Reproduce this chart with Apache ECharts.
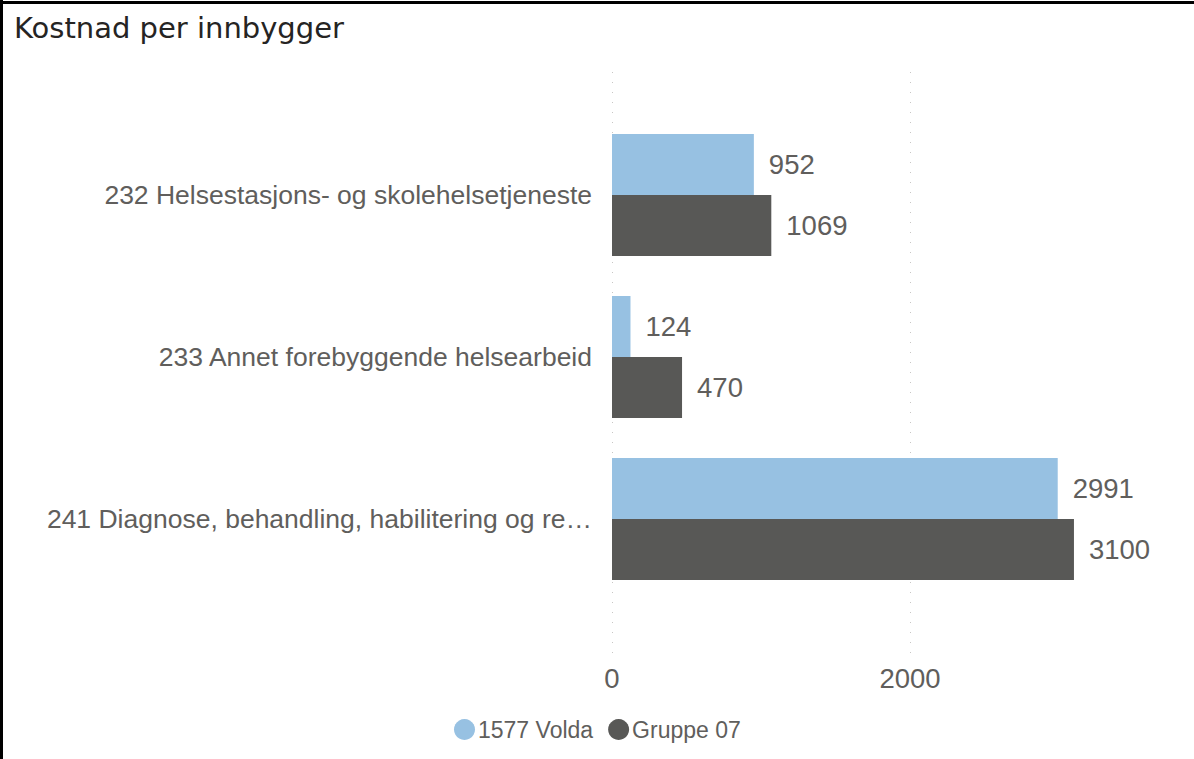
<!DOCTYPE html>
<html>
<head>
<meta charset="utf-8">
<script src="https://cdn.jsdelivr.net/npm/echarts@6/dist/echarts.min.js"></script>
<style>
html,body{margin:0;padding:0;background:#fff;}
#chart{width:1194px;height:759px;}
</style>
</head>
<body>
<div id="chart"></div>
<script>
const titleText = "Kostnad per innbygger";
const categories = [
  "232 Helsestasjons- og skolehelsetjeneste",
  "233 Annet forebyggende helsearbeid",
  "241 Diagnose, behandling, habilitering og rehabilitering"
];
const seriesNames = ["1577 Volda", "Gruppe 07"];
const voldaValues = [952, 124, 2991];
const gruppeValues = [1069, 470, 3100];
const tickValues = [0, 2000];
const colors = ["#97C1E2", "#585856"];

const chart = echarts.init(document.getElementById('chart'), null, {renderer: 'svg'});
const textColor = "#605e5c";
const font = "'Liberation Sans', Arial, sans-serif";

const option = {
  animation: false,
  backgroundColor: '#ffffff',
  title: {
    text: titleText,
    left: 9,
    top: 8,
    textStyle: {fontFamily: "'DejaVu Sans', sans-serif", fontSize: 29, fontWeight: 'normal', color: '#252423'}
  },
  graphic: [
    {type: 'rect', shape: {x: 0, y: 1, width: 1194, height: 3}, style: {fill: '#000'}, silent: true},
    {type: 'rect', shape: {x: 0, y: 0, width: 3, height: 759}, style: {fill: '#000'}, silent: true}
  ],
  legend: {
    data: seriesNames,
    left: 449,
    top: 713,
    icon: 'circle',
    itemWidth: 21,
    itemHeight: 21,
    itemGap: 15,
    textStyle: {fontFamily: font, fontSize: 23, color: textColor, padding: [0, 0, 0, -2]}
  },
  grid: [
    {left: 612, right: 12, top: 114, height: 486, containLabel: false},
    {left: 612, width: 298, top: 72, height: 581, containLabel: false}
  ],
  xAxis: [
    {
      type: 'value', gridIndex: 0, min: 0, max: 3825,
      axisLine: {show: false}, axisTick: {show: false}, axisLabel: {show: false}, splitLine: {show: false}
    },
    {
      type: 'value', gridIndex: 1, min: tickValues[0], max: tickValues[1], interval: tickValues[1] - tickValues[0],
      axisLine: {show: false}, axisTick: {show: false},
      axisLabel: {show: true, margin: 11, fontFamily: font, fontSize: 27.5, color: textColor,
        formatter: function (v) { return String(v); }},
      splitLine: {show: true, lineStyle: {color: '#c8c6c4', width: 1, type: [1, 9]}}
    }
  ],
  yAxis: [
    {
      type: 'category', gridIndex: 0, data: categories, inverse: true,
      axisLine: {show: false}, axisTick: {show: false}, splitLine: {show: false},
      axisLabel: {margin: 20, fontFamily: font, fontSize: 26.5, color: textColor, width: 562, overflow: 'truncate', ellipsis: '…'}
    },
    {
      type: 'category', gridIndex: 1, data: [''], show: false
    }
  ],
  series: [
    {
      name: seriesNames[0], type: 'bar', xAxisIndex: 0, yAxisIndex: 0,
      data: voldaValues, barGap: '0%', barCategoryGap: '24.7%',
      itemStyle: {color: colors[0]},
      label: {show: true, position: 'right', distance: 15, fontFamily: font, fontSize: 27.5, color: textColor}
    },
    {
      name: seriesNames[1], type: 'bar', xAxisIndex: 0, yAxisIndex: 0,
      data: gruppeValues, barGap: '0%', barCategoryGap: '24.7%',
      itemStyle: {color: colors[1]},
      label: {show: true, position: 'right', distance: 15, fontFamily: font, fontSize: 27.5, color: textColor}
    }
  ]
};
chart.setOption(option);
</script>
</body>
</html>
